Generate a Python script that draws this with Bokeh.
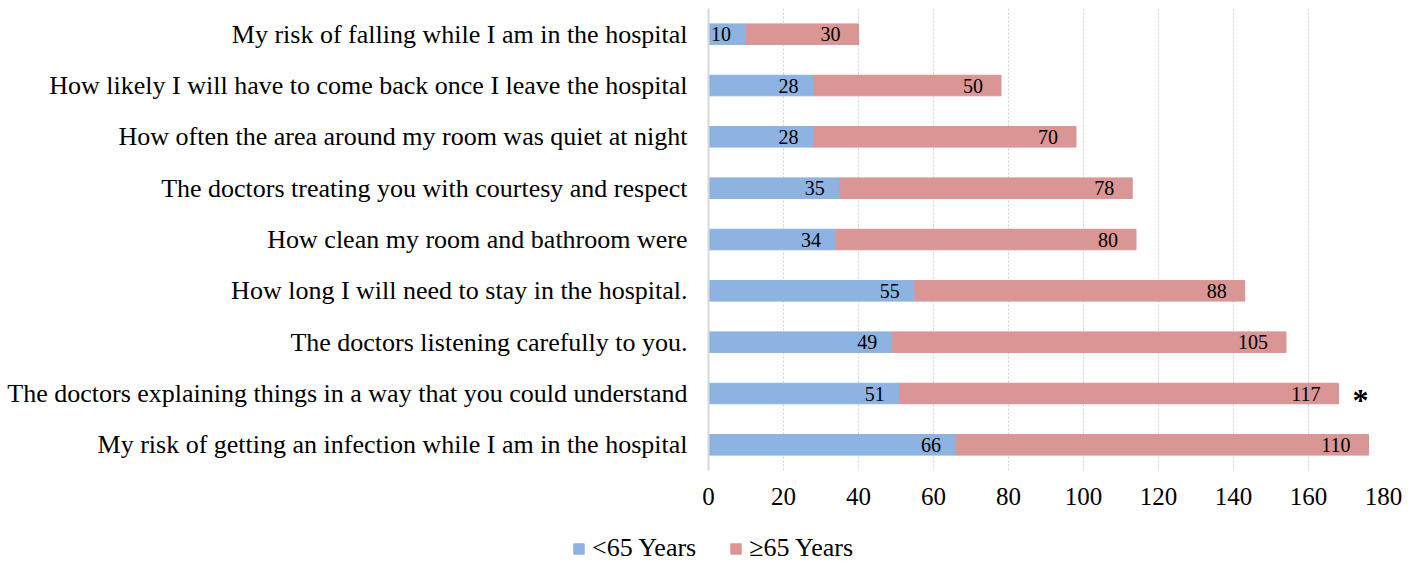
from bokeh.plotting import figure
from bokeh.layouts import column
from bokeh.models import ColumnDataSource, Legend, LegendItem, FixedTicker
from bokeh.core.properties import value
from bokeh.embed import file_html
from bokeh.resources import INLINE

categories = [
    "My risk of falling while I am in the hospital",
    "How likely I will have to come back once I leave the hospital",
    "How often the area around my room was quiet at night",
    "The doctors treating you with courtesy and respect",
    "How clean my room and bathroom were",
    "How long I will need to stay in the hospital.",
    "The doctors listening carefully to you.",
    "The doctors explaining things in a way that you could understand",
    "My risk of getting an infection while I am in the hospital",
]
under65 = [10, 28, 28, 35, 34, 55, 49, 51, 66]
over65 = [30, 50, 70, 78, 80, 88, 105, 117, 110]
series_names = ["<65 Years", "\u226565 Years"]
x_ticks = [0, 20, 40, 60, 80, 100, 120, 140, 160, 180]
starred = ["The doctors explaining things in a way that you could understand"]

BLUE = "#8DB3E2"
RED = "#D99694"
FONT = "Liberation Serif"

totals = [a + b for a, b in zip(under65, over65)]
src = ColumnDataSource(dict(cat=categories, u=under65, o=over65, tot=totals,
                            ul=[str(v) for v in under65], ol=[str(v) for v in over65]))

p = figure(y_range=list(reversed(categories)), x_range=(0, 180),
           frame_width=675, frame_height=462, width=1421, height=533,
           min_border_left=708, min_border_right=38, min_border_top=8, min_border_bottom=63,
           output_backend="svg", toolbar_location=None)
p.frame_align = False

r1 = p.hbar(y="cat", left=0, right="u", height=0.4, color=BLUE, source=src)
r2 = p.hbar(y="cat", left="u", right="tot", height=0.4, color=RED, source=src)

p.text(x="u", y="cat", text="ul", source=src, text_align="right", text_baseline="middle",
       x_offset=-15, text_font=value(FONT), text_font_size="20px", text_color="black")
p.text(x="tot", y="cat", text="ol", source=src, text_align="right", text_baseline="middle",
       x_offset=-18, text_font=value(FONT), text_font_size="20px", text_color="black")

star_x = [totals[categories.index(c)] for c in starred]
p.text(x=star_x, y=starred, text=["*"] * len(starred), text_align="left",
       text_baseline="middle", x_offset=14, y_offset=6,
       text_font=value(FONT), text_font_size="32px", text_font_style="bold", text_color="black")

p.xaxis.ticker = FixedTicker(ticks=x_ticks)
p.xaxis.axis_line_color = None
p.xaxis.major_tick_line_color = None
p.xaxis.minor_tick_line_color = None
p.xaxis.major_tick_out = 0
p.xaxis.major_label_standoff = 17
p.xaxis.major_label_text_font = FONT
p.xaxis.major_label_text_font_size = "25px"
p.xaxis.major_label_text_color = "black"

p.yaxis.axis_line_color = "#D9D9D9"
p.yaxis.axis_line_width = 2
p.yaxis.major_tick_line_color = None
p.yaxis.minor_tick_line_color = None
p.yaxis.major_tick_out = 0
p.yaxis.major_label_standoff = 21
p.yaxis.major_label_text_font = FONT
p.yaxis.major_label_text_font_size = "26px"
p.yaxis.major_label_text_color = "black"

p.xgrid.grid_line_color = "#CFCFCF"
p.xgrid.grid_line_dash = "2 2"
p.ygrid.grid_line_color = None
p.outline_line_color = None

# legend strip below the chart (its keys sit outside the visible range)
lg = figure(width=1421, height=30, x_range=(0, 1421), y_range=(0, 30),
            min_border=0, output_backend="svg", toolbar_location=None)
lg.frame_align = False
lg.axis.visible = False
lg.grid.grid_line_color = None
lg.outline_line_color = None
keys = ColumnDataSource(dict(y=[-100], left=[0], right=[0]))
k1 = lg.hbar(y="y", left="left", right="right", height=1, color=BLUE, source=keys)
k2 = lg.hbar(y="y", left="left", right="right", height=1, color=RED, source=keys)

legend = Legend(items=[LegendItem(label=series_names[0], renderers=[k1]),
                       LegendItem(label=series_names[1], renderers=[k2])],
                orientation="horizontal", location=(572, 0),
                glyph_width=13, glyph_height=13, label_text_font=FONT,
                label_text_font_size="26px", label_text_color="black",
                label_standoff=7, spacing=33,
                padding=0, margin=0, border_line_color=None, background_fill_alpha=0)
lg.add_layout(legend, "center")

layout = column(p, lg, spacing=0)
open("out.html", "w").write(file_html(layout, INLINE))
